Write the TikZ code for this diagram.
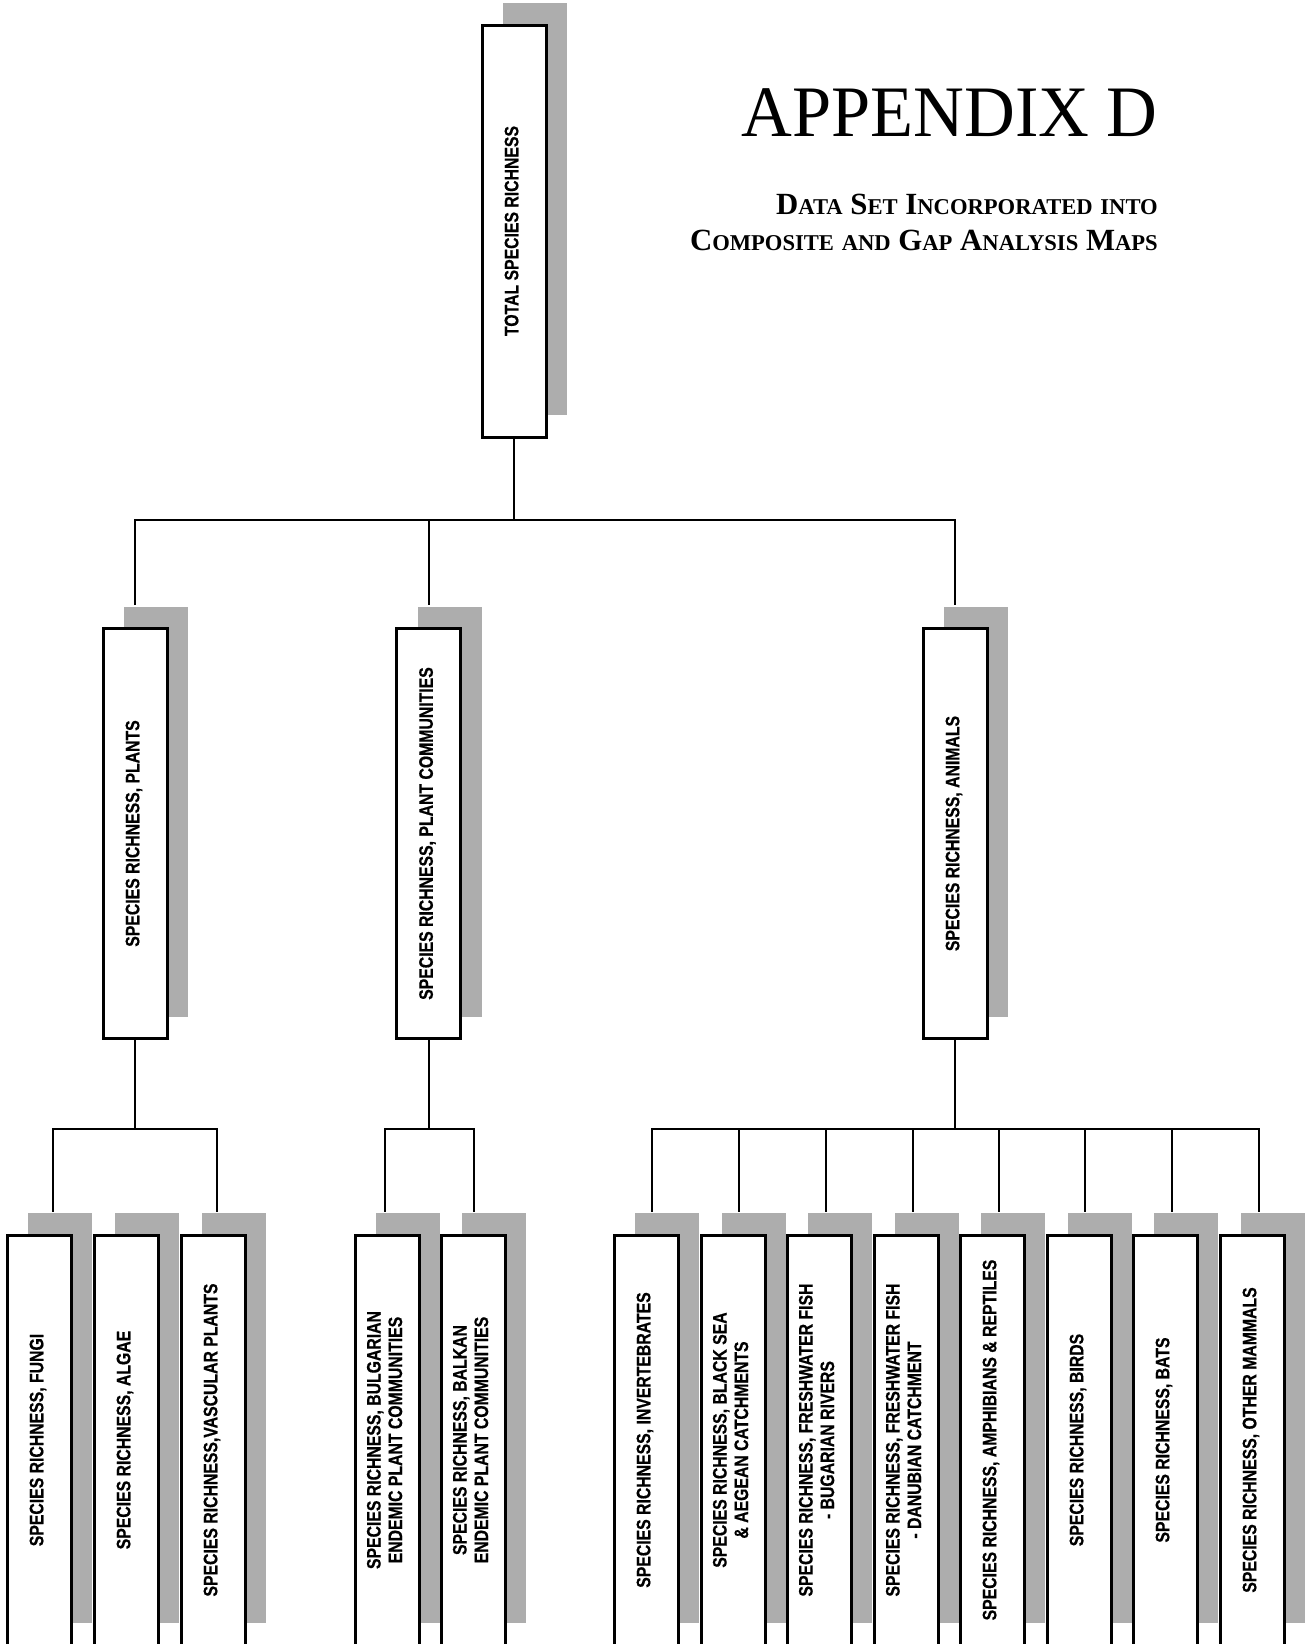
\documentclass[tikz,border=0pt]{standalone}
\usepackage{fontspec}
\setmainfont{Liberation Serif}
\newfontfamily\boxfont{Liberation Sans Bold}[FakeStretch=0.81,FakeBold=0.6]
\usetikzlibrary{shadows,calc}
\definecolor{shadowgray}{gray}{0.68}
\newcommand{\Sc}[1]{{\fontsize{22.6}{26}\selectfont #1}}
\newcommand{\vlabel}[1]{\rotatebox{90}{\begin{tabular}{@{}c@{}}#1\end{tabular}}}

\begin{document}
\begin{tikzpicture}[x=1pt,y=-1pt,
  boxnode/.style={draw, line width=3pt, fill=white, minimum width=64pt, minimum height=410pt, inner sep=0pt,
    font=\boxfont\fontsize{19.5}{21.5}\selectfont,
    general shadow={fill=shadowgray, shadow xshift=21pt, shadow yshift=22pt}},
  link/.style={line width=2pt}]
\useasboundingbox (0,0) rectangle (1310,1644);

% heading
\node[anchor=base east, inner sep=0pt, font=\fontsize{72.5}{80}\selectfont] (title) at (1158,136) {\scalebox{0.97}[1]{APPENDIX D}};
\node[anchor=base east, inner sep=0pt, font=\bfseries\fontsize{30.8}{36}\selectfont] (subA) at (1158,214) {D\Sc{ATA} S\Sc{ET} I\Sc{NCORPORATED} \Sc{INTO}};
\node[anchor=base east, inner sep=0pt, font=\bfseries\fontsize{30.8}{36}\selectfont] (subB) at (1158,250) {C\Sc{OMPOSITE} \Sc{AND} G\Sc{AP} A\Sc{NALYSIS} M\Sc{APS}};

% top
\node[boxnode, minimum height=412pt] (total) at (514,231) {\vlabel{TOTAL SPECIES RICHNESS}};

% middle row
\node[boxnode] (plants) at (135,833.5) {\vlabel{SPECIES RICHNESS, PLANTS}};
\node[boxnode] (plcomm) at (428.5,833.5) {\vlabel{SPECIES RICHNESS, PLANT COMMUNITIES}};
\node[boxnode] (animals) at (955,833.5) {\vlabel{SPECIES RICHNESS, ANIMALS}};

% bottom row
\node[boxnode] (fungi) at (39,1440) {\vlabel{SPECIES RICHNESS, FUNGI}};
\node[boxnode] (algae) at (126,1440) {\vlabel{SPECIES RICHNESS, ALGAE}};
\node[boxnode] (vascular) at (213,1440) {\vlabel{SPECIES RICHNESS,VASCULAR PLANTS}};

\node[boxnode] (bulgend) at (387,1440) {\vlabel{SPECIES RICHNESS, BULGARIAN\\ENDEMIC PLANT COMMUNITIES}};
\node[boxnode] (balkend) at (473,1440) {\vlabel{SPECIES RICHNESS, BALKAN\\ENDEMIC PLANT COMMUNITIES}};

\node[boxnode] (invert) at (646,1440) {\vlabel{SPECIES RICHNESS, INVERTEBRATES}};
\node[boxnode] (blacksea) at (733,1440) {\vlabel{SPECIES RICHNESS, BLACK SEA\\\& AEGEAN CATCHMENTS}};
\node[boxnode] (fishbg) at (819,1440) {\vlabel{SPECIES RICHNESS, FRESHWATER FISH\\- BUGARIAN RIVERS}};
\node[boxnode] (fishdan) at (906,1440) {\vlabel{SPECIES RICHNESS, FRESHWATER FISH\\- DANUBIAN CATCHMENT}};
\node[boxnode] (amphib) at (992,1440) {\vlabel{SPECIES RICHNESS, AMPHIBIANS \& REPTILES}};
\node[boxnode] (birds) at (1079,1440) {\vlabel{SPECIES RICHNESS, BIRDS}};
\node[boxnode] (bats) at (1165,1440) {\vlabel{SPECIES RICHNESS, BATS}};
\node[boxnode] (mammals) at (1252,1440) {\vlabel{SPECIES RICHNESS, OTHER MAMMALS}};

% top to middle
\draw[link] (total.south) -- ++(0,81) coordinate (tj);
\draw[link] ($(plants.north)+(0,-22)$) |- (tj) -| ($(animals.north)+(0,-22)$);
\draw[link] (plcomm.north |- tj) -- ($(plcomm.north)+(0,-22)$);

% plants
\draw[link] (plants.south) -- ++(0,89) coordinate (pj);
\draw[link] ($(fungi.north)+(14,-22)$) |- (pj) -| ($(vascular.north)+(4,-22)$);

% plant communities
\draw[link] (plcomm.south) -- ++(0,89) coordinate (cj);
\draw[link] ($(bulgend.north)+(-2,-22)$) |- (cj) -| ($(balkend.north)+(1,-22)$);

% animals
\draw[link] (animals.south) -- ++(0,89) coordinate (aj);
\draw[link] ($(invert.north)+(6,-22)$) |- (aj) -| ($(mammals.north)+(7,-22)$);
\draw[link] ($(blacksea.north)+(6,-22)$) -- ($(blacksea.north |- aj)+(6,0)$);
\draw[link] ($(fishbg.north)+(7,-22)$) -- ($(fishbg.north |- aj)+(7,0)$);
\draw[link] ($(fishdan.north)+(7,-22)$) -- ($(fishdan.north |- aj)+(7,0)$);
\draw[link] ($(amphib.north)+(7,-22)$) -- ($(amphib.north |- aj)+(7,0)$);
\draw[link] ($(birds.north)+(6,-22)$) -- ($(birds.north |- aj)+(6,0)$);
\draw[link] ($(bats.north)+(7,-22)$) -- ($(bats.north |- aj)+(7,0)$);

\end{tikzpicture}
\end{document}
